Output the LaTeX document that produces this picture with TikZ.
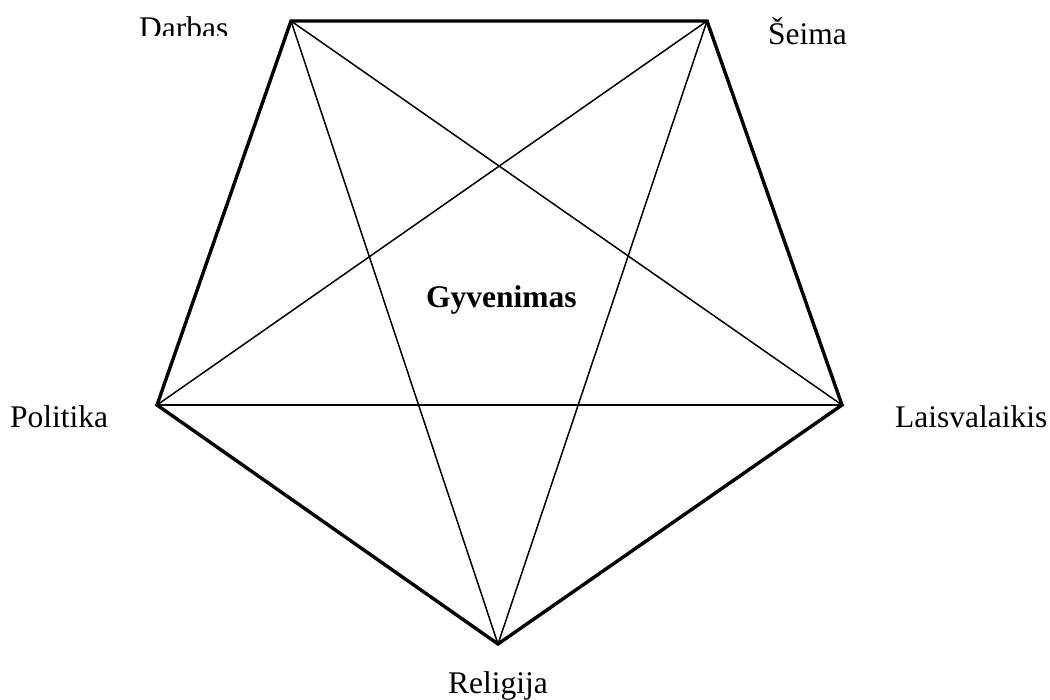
\documentclass[tikz,border=0pt]{standalone}
\usepackage{fontspec}
\setmainfont{Liberation Serif}
\begin{document}
\begin{tikzpicture}[x=1pt,y=-1pt,
  outer/.style={line width=3.4pt,line join=miter},
  inner/.style={line width=1.5pt},
  lbl/.style={anchor=base west,inner sep=0pt,font=\fontsize{31.5}{36}\selectfont}]
\useasboundingbox (0,0) rectangle (1050,700);
\coordinate (D) at (291,21);
\coordinate (S) at (707,21);
\coordinate (L) at (842,405);
\coordinate (R) at (498,644);
\coordinate (P) at (157,405);
% diagonals
\draw[inner] (D) -- (L);
\draw[inner] (D) -- (R);
\draw[inner] (S) -- (P);
\draw[inner] (S) -- (R);
\draw[inner] (P) -- (L);
% outer pentagon
\draw[outer] (D) -- (S) -- (L) -- (R) -- (P) -- cycle;
% labels
\begin{scope}
\clip (0,0) rectangle (260,36);
\node[lbl] (darbas) at (139,39) {Darbas};
\end{scope}
\node[lbl] (seima) at (768,45) {Šeima};
\node[lbl] (politika) at (10,428) {Politika};
\node[lbl] (laisv) at (895,428) {Laisvalaikis};
\node[lbl] (religija) at (448,693) {Religija};
\node[lbl,font=\fontsize{31.5}{36}\selectfont\bfseries] (gyv) at (426,308) {Gyvenimas};
\end{tikzpicture}
\end{document}
